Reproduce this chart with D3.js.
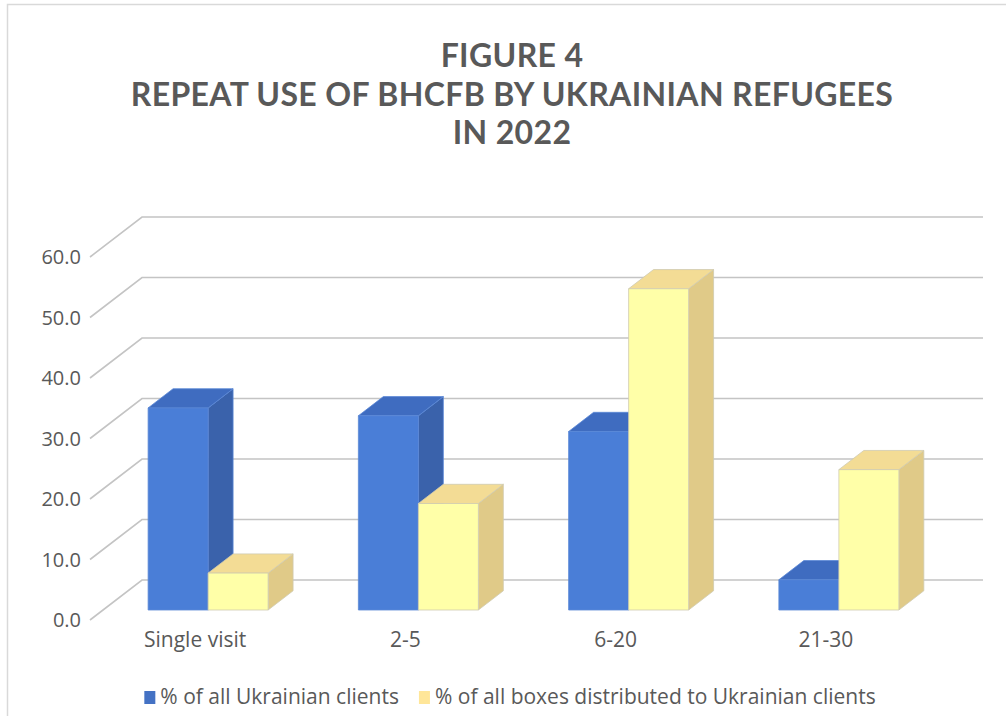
<!DOCTYPE html>
<html>
<head>
<meta charset="utf-8">
<script src="https://cdn.jsdelivr.net/npm/d3@7"></script>
<style>
  html, body { margin: 0; padding: 0; background: #fff; }
  svg { display: block; }
  text { font-family: "Open Sans", "Noto Sans", sans-serif; fill: #595959; }
  .title { font-family: Lato, "Open Sans", sans-serif; }
</style>
</head>
<body>
<svg id="chart" width="1006" height="716"></svg>
<script>
// Visit-frequency groups and the two shares (%) for each group
const categories = ["Single visit", "2-5", "6-20", "21-30"];
const clientShare = [33.4, 32.1, 29.5, 5.0];
const boxShare = [6.1, 17.6, 53.1, 23.2];
const seriesNames = ["% of all Ukrainian clients", "% of all boxes distributed to Ukrainian clients"];
const yTicks = [0, 10, 20, 30, 40, 50, 60];
const titleLines = ["FIGURE 4", "REPEAT USE OF BHCFB BY UKRAINIAN REFUGEES", "IN 2022"];

const palette = [
  { front: "#4a7ed7", top: "#3f6cc0", side: "#3a62ab", stroke: "#5a88d6" },
  { front: "#ffffa8", top: "#f3dc95", side: "#e0ca88", stroke: "#cfcab0" }
];

const svg = d3.select("#chart");

// Outer chart frame (only top and left edges fall inside the view)
svg.append("path")
  .attr("d", "M7.5,716 L7.5,4.5 L1006,4.5")
  .attr("fill", "none").attr("stroke", "#d9d9d9").attr("stroke-width", 1.5);

// Title, one text element per line
svg.append("g")
  .selectAll("text").data(titleLines).join("text")
  .attr("class", "title")
  .attr("x", 512)
  .attr("y", (d, i) => 67 + i * 38.5)
  .attr("text-anchor", "middle")
  .attr("font-size", 32)
  .attr("font-weight", 700)
  .attr("letter-spacing", 0.35)
  .text(d => d);

// Oblique 3D projection: front plane coordinates plus a depth fraction
const depth = { dx: 52, dy: -40 };
const proj = (px, py, d) => [px + depth.dx * d, py + depth.dy * d];

const x = d3.scaleBand().domain(categories).range([90, 931]);
const y = d3.scaleLinear().domain([0, 60]).range([620, 257]);
const xs = d3.scaleBand().domain([0, 1]).range([0, x.bandwidth()])
  .paddingInner(0).paddingOuter(0.752);

const barDepth = [0.25, 0.73];

// Gridlines: side-wall diagonal + back-wall horizontal
const grid = svg.append("g");
yTicks.forEach(t => {
  const a = proj(x.range()[0], y(t), 0);
  const b = proj(x.range()[0], y(t), 1);
  const c = proj(x.range()[1], y(t), 1);
  grid.append("path")
    .attr("d", d3.line()([a, b, c]))
    .attr("fill", "none")
    .attr("stroke", "#c4c4c4")
    .attr("stroke-width", 1.6);
});

// Value axis labels
svg.append("g").selectAll("text").data(yTicks).join("text")
  .attr("x", 81)
  .attr("y", d => y(d))
  .attr("dy", "0.36em")
  .attr("text-anchor", "end")
  .attr("font-size", 20)
  .text(d3.format(".1f"));

// Category labels
svg.append("g").selectAll("text").data(categories).join("text")
  .attr("x", d => x(d) + x.bandwidth() / 2)
  .attr("y", 647)
  .attr("text-anchor", "middle")
  .attr("font-size", 21)
  .text(d => d);

// Bars, drawn left to right so nearer faces overlap farther ones
const bars = [];
categories.forEach((c, i) => {
  [clientShare[i], boxShare[i]].forEach((v, s) => {
    bars.push({ c, s, v });
  });
});

const poly = pts => "M" + pts.map(p => p.join(",")).join("L") + "Z";
const barG = svg.append("g");
bars.forEach(b => {
  const x0 = x(b.c) + xs(b.s);
  const x1 = x0 + xs.bandwidth();
  const y0 = y(0), y1 = y(b.v);
  const [d0, d1] = barDepth;
  const col = palette[b.s];
  const g = barG.append("g")
    .attr("stroke", col.stroke).attr("stroke-width", 0.8).attr("stroke-linejoin", "round");
  g.append("path").attr("fill", col.side)
    .attr("d", poly([proj(x1, y0, d0), proj(x1, y1, d0), proj(x1, y1, d1), proj(x1, y0, d1)]));
  g.append("path").attr("fill", col.top)
    .attr("d", poly([proj(x0, y1, d0), proj(x1, y1, d0), proj(x1, y1, d1), proj(x0, y1, d1)]));
  g.append("path").attr("fill", col.front)
    .attr("d", poly([proj(x0, y0, d0), proj(x1, y0, d0), proj(x1, y1, d0), proj(x0, y1, d0)]));
});

// Legend, centred under the plot
const legend = svg.append("g");
const items = legend.selectAll("g").data(seriesNames).join("g");
items.append("rect")
  .attr("width", 11).attr("height", 13).attr("y", -13)
  .attr("fill", (d, i) => i === 0 ? "#4472c4" : "#ffe699");
items.append("text")
  .attr("x", 16)
  .attr("font-size", 21)
  .text(d => d);
let cursor = 0;
items.each(function () {
  const w = this.getBBox().width;
  d3.select(this).attr("transform", `translate(${cursor},0)`);
  cursor += w + 20;
});
const total = cursor - 20;
legend.attr("transform", `translate(${510 - total / 2},704)`);
</script>
</body>
</html>
